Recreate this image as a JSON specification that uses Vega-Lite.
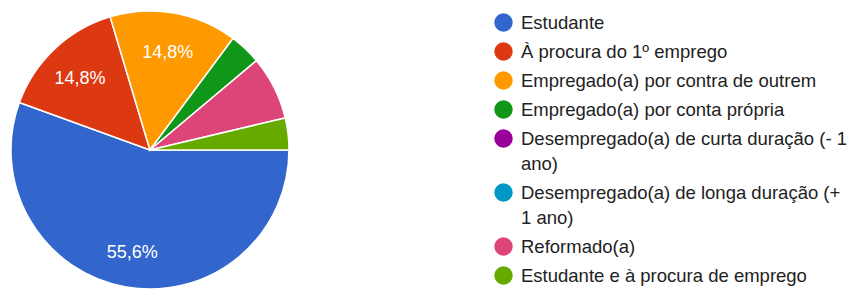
{
  "$schema": "https://vega.github.io/schema/vega-lite/v6.json",
  "width": 300,
  "height": 300,
  "padding": 0,
  "background": "white",
  "config": {
    "view": {"stroke": null},
    "font": "Liberation Sans",
    "style": {"guide-label": {"lineHeight": 25}},
    "locale": {"number": {"decimal": ",", "thousands": ".", "grouping": [3], "currency": ["", " €"]}}
  },
  "data": {
    "values": [
      {"category": "Estudante", "count": 15, "pct": 0.5556, "order": 1},
      {"category": "À procura do 1º emprego", "count": 4, "pct": 0.1481, "order": 2},
      {"category": "Empregado(a) por contra de outrem", "count": 4, "pct": 0.1481, "order": 3},
      {"category": "Empregado(a) por conta própria", "count": 1, "pct": 0.037, "order": 4},
      {"category": "Desempregado(a) de curta duração (- 1 ano)", "count": 0, "pct": 0, "order": 5},
      {"category": "Desempregado(a) de longa duração (+ 1 ano)", "count": 0, "pct": 0, "order": 6},
      {"category": "Reformado(a)", "count": 2, "pct": 0.0741, "order": 7},
      {"category": "Estudante e à procura de emprego", "count": 1, "pct": 0.037, "order": 8}
    ]
  },
  "transform": [{"filter": "datum.count > 0"}],
  "encoding": {
    "theta": {"field": "count", "type": "quantitative", "stack": true, "scale": {"range": [1.5708, 7.8540]}},
    "order": {"field": "order", "type": "quantitative"}
  },
  "layer": [
    {
      "mark": {"type": "arc", "radius": 139, "stroke": "white", "strokeWidth": 1.5},
      "encoding": {
        "color": {
          "field": "category",
          "type": "nominal",
          "sort": null,
          "scale": {
            "domain": ["Estudante", "À procura do 1º emprego", "Empregado(a) por contra de outrem", "Empregado(a) por conta própria", "Desempregado(a) de curta duração (- 1 ano)", "Desempregado(a) de longa duração (+ 1 ano)", "Reformado(a)", "Estudante e à procura de emprego"],
            "range": ["#3366cc", "#dc3912", "#ff9900", "#109618", "#990099", "#0099c6", "#dd4477", "#66aa00"]
          },
          "legend": {
            "title": null,
            "orient": "none",
            "legendX": 494,
            "legendY": 13,
            "padding": 0,
            "symbolType": "circle",
            "symbolSize": 340,
            "symbolStrokeWidth": 0,
            "symbolOpacity": 1,
            "labelFontSize": 18.5,
            "labelFont": "Liberation Sans",
            "labelColor": "#222222",
            "labelOffset": 8,
            "labelLimit": 400,
            "rowPadding": 10,
            "labelExpr": "datum.label == 'Desempregado(a) de curta duração (- 1 ano)' ? ['Desempregado(a) de curta duração (- 1', 'ano)'] : datum.label == 'Desempregado(a) de longa duração (+ 1 ano)' ? ['Desempregado(a) de longa duração (+', '1 ano)'] : datum.label",
            "encode": {"labels": {"update": {"lineHeight": {"value": 25}}}}
          }
        }
      }
    },
    {
      "transform": [{"filter": "datum.count >= 4"}],
      "mark": {"type": "text", "radius": 102, "dy": 3, "fill": "white", "fontSize": 18, "font": "Liberation Sans"},
      "encoding": {
        "text": {"field": "pct", "type": "quantitative", "format": ".1%"}
      }
    }
  ]
}
